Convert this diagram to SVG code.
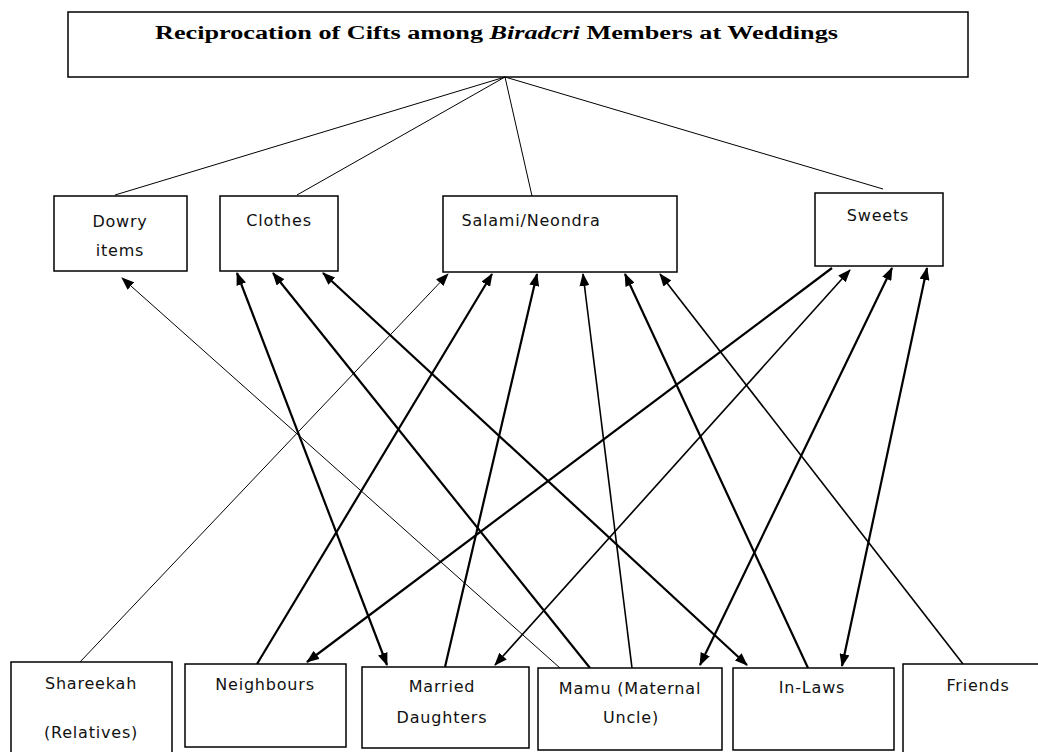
<svg xmlns="http://www.w3.org/2000/svg" width="1038" height="752" viewBox="0 0 1038 752">
<style>
.box{fill:#fff;stroke:#000;stroke-width:1.5}
.lbl{font-family:"DejaVu Sans",Verdana,sans-serif;font-size:16px;letter-spacing:0.8px;fill:#111;text-anchor:middle}
.title{font-family:"Liberation Serif","Times New Roman",serif;font-size:18px;font-weight:bold;fill:#000}
.fan{stroke:#000;stroke-width:1;fill:none}
.thick{stroke:#000;stroke-width:2.2;fill:none}
.mid{stroke:#000;stroke-width:1.6;fill:none}
.thin{stroke:#000;stroke-width:1;fill:none}
</style>
<defs>
<marker id="ah" markerUnits="userSpaceOnUse" markerWidth="14" markerHeight="10" refX="12" refY="5" orient="auto-start-reverse">
<path d="M0,0 L13,5 L0,10 z" fill="#000"/>
</marker>
</defs>
<rect width="1038" height="752" fill="#fff"/>

<g id="title">
<rect class="box" x="68" y="12" width="900" height="65"/>
<text class="title" x="155" y="39" textLength="683" lengthAdjust="spacingAndGlyphs">Reciprocation of Cifts among <tspan font-style="italic">Biradcri</tspan> Members at Weddings</text>
</g>

<g id="connectors">
<line class="fan" x1="505" y1="77" x2="115" y2="195"/>
<line class="fan" x1="505" y1="77" x2="297" y2="195"/>
<line class="fan" x1="505" y1="77" x2="532" y2="196"/>
<line class="fan" x1="505" y1="77" x2="883" y2="189"/>

<line class="thin" x1="560" y1="668" x2="122" y2="278" marker-end="url(#ah)"/>
<line class="thick" x1="387" y1="665" x2="237" y2="273" marker-start="url(#ah)" marker-end="url(#ah)"/>
<line class="thick" x1="590" y1="668" x2="273" y2="273" marker-end="url(#ah)"/>
<line class="thick" x1="747" y1="665" x2="323" y2="273" marker-start="url(#ah)" marker-end="url(#ah)"/>

<line class="thin" x1="80" y1="662" x2="448" y2="274" marker-end="url(#ah)"/>
<line class="thick" x1="257" y1="664" x2="492" y2="274" marker-end="url(#ah)"/>
<line class="thick" x1="445" y1="667" x2="537" y2="274" marker-end="url(#ah)"/>
<line class="mid" x1="632" y1="668" x2="583" y2="274" marker-end="url(#ah)"/>
<line class="thick" x1="808" y1="668" x2="625" y2="274" marker-end="url(#ah)"/>
<line class="mid" x1="963" y1="664" x2="660" y2="274" marker-end="url(#ah)"/>

<line class="thick" x1="832" y1="268" x2="307" y2="662" marker-end="url(#ah)"/>
<line class="mid" x1="495" y1="665" x2="850" y2="270" marker-start="url(#ah)" marker-end="url(#ah)"/>
<line class="thick" x1="700" y1="665" x2="892" y2="268" marker-start="url(#ah)" marker-end="url(#ah)"/>
<line class="thick" x1="842" y1="666" x2="927" y2="268" marker-start="url(#ah)" marker-end="url(#ah)"/>
</g>

<g id="dowry">
<rect class="box" x="54" y="196" width="133" height="75"/>
<text class="lbl" x="120" y="227">Dowry</text>
<text class="lbl" x="120" y="256">items</text>
</g>
<g id="clothes">
<rect class="box" x="220" y="196" width="118" height="75"/>
<text class="lbl" x="279" y="226">Clothes</text>
</g>
<g id="salami">
<rect class="box" x="443" y="196" width="234" height="76"/>
<text class="lbl" x="531" y="226">Salami/Neondra</text>
</g>
<g id="sweets">
<rect class="box" x="815" y="193" width="128" height="73"/>
<text class="lbl" x="878" y="221">Sweets</text>
</g>

<g id="shareekah">
<rect class="box" x="11" y="662" width="161" height="100"/>
<text class="lbl" x="91" y="689">Shareekah</text>
<text class="lbl" x="91" y="738">(Relatives)</text>
</g>
<g id="neighbours">
<rect class="box" x="185" y="664" width="161" height="83"/>
<text class="lbl" x="265" y="690">Neighbours</text>
</g>
<g id="married">
<rect class="box" x="362" y="667" width="167" height="81"/>
<text class="lbl" x="442" y="692">Married</text>
<text class="lbl" x="442" y="723">Daughters</text>
</g>
<g id="mamu">
<rect class="box" x="538" y="668" width="184" height="82"/>
<text class="lbl" x="630" y="694">Mamu (Maternal</text>
<text class="lbl" x="631" y="723">Uncle)</text>
</g>
<g id="inlaws">
<rect class="box" x="733" y="668" width="161" height="82"/>
<text class="lbl" x="812" y="693">In-Laws</text>
</g>
<g id="friends">
<rect class="box" x="903" y="664" width="150" height="100"/>
<text class="lbl" x="978" y="691">Friends</text>
</g>
</svg>
